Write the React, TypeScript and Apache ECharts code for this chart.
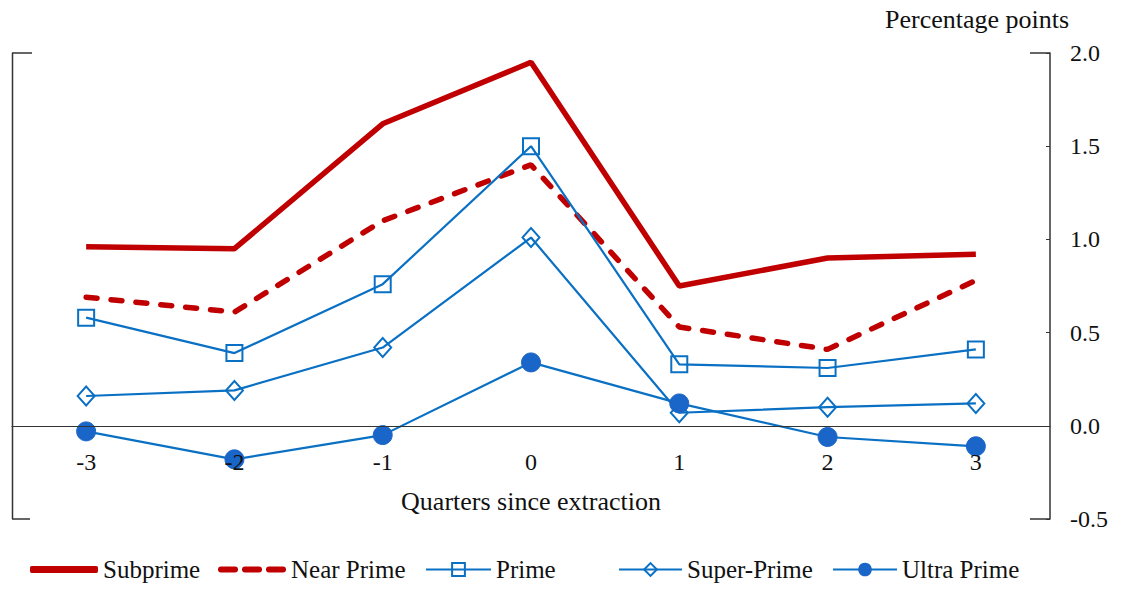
import React, { useEffect, useRef } from "react";
import * as echarts from "echarts";

const categories = ["-3", "-2", "-1", "0", "1", "2", "3"];
const subprime = [0.96, 0.95, 1.62, 1.95, 0.75, 0.9, 0.92];
const nearPrime = [0.69, 0.61, 1.1, 1.4, 0.53, 0.41, 0.78];
const prime = [0.58, 0.39, 0.76, 1.5, 0.33, 0.31, 0.41];
const superPrime = [0.16, 0.19, 0.42, 1.01, 0.07, 0.1, 0.12];
const ultraPrime = [-0.03, -0.18, -0.05, 0.34, 0.12, -0.06, -0.11];

const FONT = "'Liberation Serif', 'Times New Roman', serif";
const RED = "#C00000";
const BLUE = "#0A70C4";

export default function App() {
  const ref = useRef<HTMLDivElement>(null);
  useEffect(() => {
    const chart = echarts.init(ref.current!, null, { renderer: "svg" });
    const legendText = { fontFamily: FONT, fontSize: 25, color: "#111" };
    const mkLegend = (item: any, left: number, h: number, w = 68) => ({
      data: [item],
      left,
      top: 557,
      itemWidth: w,
      itemHeight: h,
      itemGap: 0,
      padding: 0,
      textStyle: legendText,
      selectedMode: false,
    });
    const blackLine = { stroke: "#333", lineWidth: 1.5 };
    chart.setOption({
      animation: false,
      textStyle: { fontFamily: FONT },
      grid: { left: 12, right: 71, top: 53, bottom: 70, outerBoundsMode: "none", containLabel: false },
      legend: [
        mkLegend({ name: "Subprime", icon: "roundRect", itemStyle: { color: RED } }, 30, 7),
        mkLegend(
          {
            name: "Near Prime",
            icon: "path://M3,0h14a3,3 0 0 1 0,6h-14a3,3 0 0 1 0,-6z M27,0h14a3,3 0 0 1 0,6h-14a3,3 0 0 1 0,-6z M51,0h14a3,3 0 0 1 0,6h-14a3,3 0 0 1 0,-6z",
            itemStyle: { color: RED },
          },
          218,
          7
        ),
        mkLegend("Prime", 425, 16, 65),
        mkLegend("Super-Prime", 618, 16, 63),
        mkLegend("Ultra Prime", 832, 17, 64),
      ],
      graphic: [
        { type: "line", shape: { x1: 12.5, y1: 53, x2: 12.5, y2: 519 }, style: blackLine },
        { type: "line", shape: { x1: 12, y1: 53, x2: 32, y2: 53 }, style: blackLine },
        { type: "line", shape: { x1: 12, y1: 519, x2: 30, y2: 519 }, style: blackLine },
        { type: "line", shape: { x1: 1030, y1: 53, x2: 1050, y2: 53 }, style: blackLine },
        { type: "line", shape: { x1: 1030, y1: 519, x2: 1050, y2: 519 }, style: blackLine },
        {
          type: "text",
          left: 885,
          top: 6,
          style: { text: "Percentage points", font: `26px ${FONT}`, fill: "#111" },
        },
      ],
      xAxis: {
        type: "category",
        data: categories,
        boundaryGap: true,
        z: 10,
        offset: -93.2,
        axisLine: { onZero: false, lineStyle: { color: "#333", width: 1.2 } },
        axisTick: { show: false },
        axisLabel: { fontFamily: FONT, fontSize: 24, color: "#111", margin: 24 },
        name: "Quarters since extraction",
        nameLocation: "middle",
        nameGap: 63,
        nameTextStyle: { fontFamily: FONT, fontSize: 26, color: "#111" },
      },
      yAxis: {
        type: "value",
        position: "right",
        min: -0.5,
        max: 2,
        interval: 0.5,
        splitLine: { show: false },
        axisLine: { show: true, lineStyle: { color: "#333", width: 1.5 } },
        axisTick: { show: true, inside: true, length: 4, lineStyle: { color: "#333" } },
        axisLabel: {
          fontFamily: FONT,
          fontSize: 24,
          color: "#111",
          margin: 20,
          formatter: (v: number) => v.toFixed(1),
        },
      },
      series: [
        {
          name: "Subprime",
          type: "line",
          data: subprime,
          symbol: "none",
          lineStyle: { color: RED, width: 5.5 },
          itemStyle: { color: RED },
        },
        {
          name: "Near Prime",
          type: "line",
          data: nearPrime,
          symbol: "none",
          lineStyle: { color: RED, width: 5.5, type: [11, 14], cap: "round" },
          itemStyle: { color: RED },
        },
        {
          name: "Prime",
          type: "line",
          data: prime,
          symbol: "rect",
          symbolSize: 16,
          lineStyle: { color: BLUE, width: 2.2 },
          itemStyle: { color: "transparent", borderColor: BLUE, borderWidth: 2 },
        },
        {
          name: "Super-Prime",
          type: "line",
          data: superPrime,
          symbol: "diamond",
          symbolSize: [17, 19],
          lineStyle: { color: BLUE, width: 2.2 },
          itemStyle: { color: "transparent", borderColor: BLUE, borderWidth: 2 },
        },
        {
          name: "Ultra Prime",
          type: "line",
          data: ultraPrime,
          symbol: "circle",
          symbolSize: 19,
          lineStyle: { color: BLUE, width: 2.2 },
          itemStyle: { color: "#1A66C8", borderColor: "#1A66C8" },
        },
      ],
    });
    return () => chart.dispose();
  }, []);
  return <div ref={ref} style={{ width: 1121, height: 589, position: "absolute", left: 0, top: 0 }} />;
}
